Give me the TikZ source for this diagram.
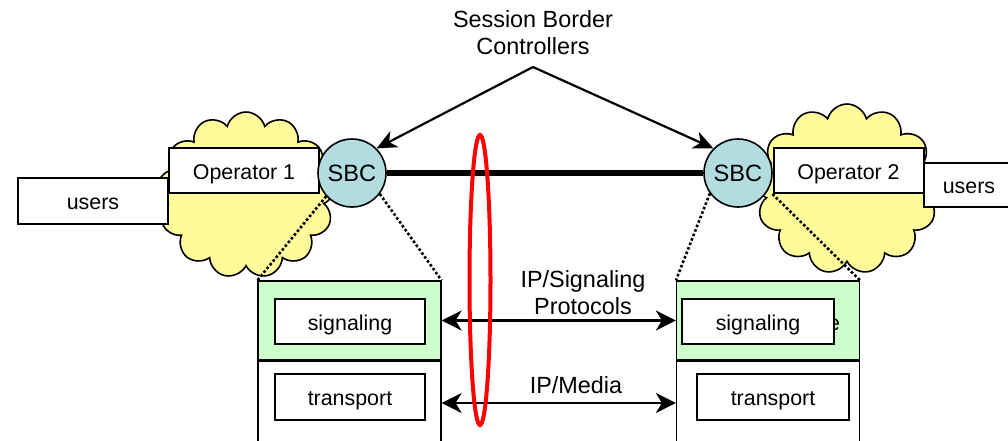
\documentclass[tikz,border=0pt]{standalone}
\usepackage{fontspec}
\setmainfont{Liberation Sans}
\usetikzlibrary{arrows.meta,positioning,shapes.symbols,shapes.geometric}

\definecolor{cloudyellow}{HTML}{FFFB9A}
\definecolor{sbcblue}{HTML}{B2DCE0}
\definecolor{siggreen}{HTML}{CCFFCC}

\begin{document}
\begin{tikzpicture}[x=0.5pt,y=-0.5pt,font=\fontsize{10.7}{14}\selectfont,
  box/.style={draw,line width=1pt,fill=white,inner sep=0pt,
    text height=8.5pt,text depth=0pt,
    minimum width=75pt,minimum height=22.5pt},
  panel/.style={draw,line width=0.6pt,inner sep=0pt,minimum width=91.5pt},
  sbc/.style={circle,draw,line width=0.8pt,fill=sbcblue,inner sep=0pt,
    font=\fontsize{11.8}{14}\selectfont,
    text height=8.8pt,text depth=0pt,minimum size=34pt},
  opcloud/.style={cloud,cloud puffs=13,cloud ignores aspect,draw,
    line width=0.8pt,fill=cloudyellow},
  bigtext/.style={align=center,font=\fontsize{11.7}{13.8}\selectfont},
  arr/.style={-{Stealth[length=10pt,width=9pt,inset=3pt]},line width=1.1pt},
  dbl/.style={{Stealth[length=10pt,width=10pt,inset=3pt]}-{Stealth[length=10pt,width=10pt,inset=3pt]},line width=1.1pt},
  dots/.style={line width=1.3pt,dash pattern=on 1.3pt off 1.1pt}]
  \useasboundingbox (0,0) rectangle (1008,440);

  % operator networks
  \node[opcloud,minimum width=89pt,minimum height=83pt] (cloudl) at (246,195) {};
  \node[opcloud,minimum width=92pt,minimum height=85pt] (cloudr) at (847,189) {};

  \node[box,minimum height=23pt] (usersl) at (93,201) {users};
  \node[box,minimum width=45pt,minimum height=22pt] (usersr) at (969,185) {users};
  \node[box] (opone) at (244,170.5) {Operator 1};
  \node[box] (optwo) at (848.5,170.5) {Operator 2};

  % border controllers
  \node[sbc] (sbcl) at (352,173) {SBC};
  \node[sbc] (sbcr) at (738,173) {SBC};
  \draw[line width=2.6pt] (sbcl.east) -- (sbcr.west);

  \node[bigtext] (title) at (533,32.5) {Session Border\\Controllers};
  \coordinate (apex) at (533,67);
  \draw[arr] (apex) -- (sbcl.north east);
  \draw[arr] (apex) -- (sbcr.north west);

  % protocol stacks
  \node[panel,fill=siggreen,minimum height=39.5pt] (sigpl) at (349.5,320.5) {};
  \node[panel,fill=white,minimum height=42pt] (trpl) at (349.5,403) {};
  \node[panel,fill=siggreen,minimum height=39.5pt] (sigpr) at (768,320.5) {};
  \node[panel,fill=white,minimum height=42pt] (trpr) at (768,403) {};

  \node[box] (sigl) at (350,321.5) {signaling};
  \node[box,minimum height=23pt] (trl) at (350,397) {transport};
  \node (hidden) at (834,325) {e};
  \node[box,minimum width=76pt] (sigr) at (758,321.5) {signaling};
  \node[box,minimum width=76pt,minimum height=23pt] (trr) at (773,397) {transport};

  \draw[dots] (sbcl.222) -- (sigpl.north west);
  \draw[dots] (sbcl.-37) -- (sigpl.north east);
  \draw[dots] (sbcr.216) -- (sigpr.north west);
  \draw[dots] (optwo.south west) -- (sigpr.north east);

  % interfaces
  \draw[dbl] (sigpl.east) -- (sigpr.west);
  \draw[dbl] (trpl.east) -- (trpr.west);
  \node[bigtext] (siglabel) at (583,292.5) {IP/Signaling\\Protocols};
  \node[bigtext] (medlabel) at (576,385) {IP/Media};

  \node[ellipse,draw=red,line width=2pt,inner sep=0pt,
    minimum width=10.5pt,minimum height=145pt] (border) at (480,280) {};
\end{tikzpicture}
\end{document}
